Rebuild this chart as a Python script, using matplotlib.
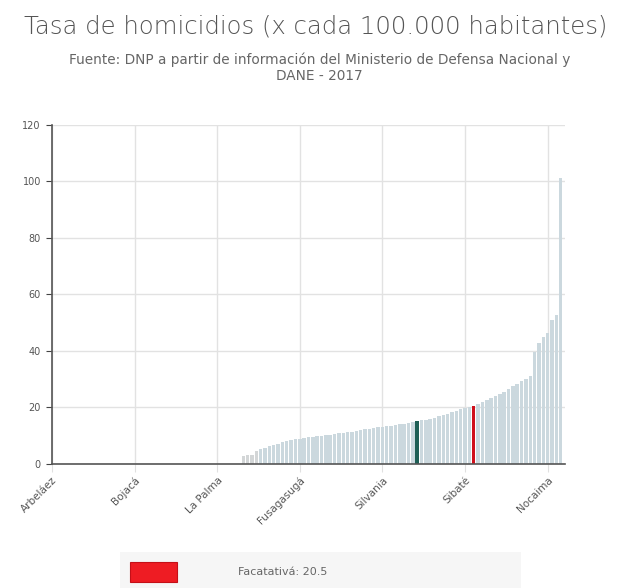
import matplotlib
matplotlib.use('Agg')
import matplotlib.pyplot as plt
from matplotlib.patches import Rectangle

# municipios ordenados por tasa; los primeros 44 sin homicidios
n_zero = 44
tasas = [2.8, 3.0, 3.3, 4.5, 5.2, 5.8, 6.3, 6.8, 7.2, 7.6, 8.0, 8.4, 8.7,
         9.0, 9.2, 9.4, 9.6, 9.8, 10.0, 10.2, 10.4, 10.6, 10.8, 11.0, 11.2,
         11.4, 11.7, 12.0, 12.2, 12.4, 12.7, 13.0, 13.2, 13.4, 13.6, 13.8,
         14.0, 14.3, 14.6, 14.8, 15.1, 15.4, 15.7, 16.0, 16.4, 16.8, 17.3,
         17.8, 18.3, 18.8, 19.3, 19.8, 20.2, 20.5, 21.2, 22.0, 22.7, 23.4,
         24.0, 24.6, 25.5, 26.5, 27.5, 28.4, 29.3, 30.2, 31.2, 39.6, 42.8,
         45.0, 46.5, 51.0, 52.7, 101.2]
valores = [0.0] * n_zero + tasas

tick_idx = [0, 19, 38, 57, 76, 95, 114]
tick_labels = ['Arbeláez', 'Bojacá', 'La Palma', 'Fusagasugá', 'Silvania',
               'Sibaté', 'Nocaima']

idx_verde = 84
idx_rojo = 97
etiqueta_rojo = 'Facatativá: 20.5'

colores = []
for i, v in enumerate(valores):
    if i == idx_rojo:
        colores.append('#d0101c')
    elif i == idx_verde:
        colores.append('#1f5f55')
    elif i < 48:
        colores.append('#d3d6d7')
    else:
        colores.append('#cbd8de')

fig = plt.figure(figsize=(6.26, 5.88), dpi=100)
ax = fig.add_axes([0.083, 0.211, 0.8196, 0.5765])

ax.bar(range(len(valores)), valores, width=0.8, color=colores, zorder=2)

ax.set_xlim(0, 118)
ax.set_ylim(0, 120)
ax.set_yticks(range(0, 121, 20))
ax.set_xticks(tick_idx)
ax.set_xticklabels(tick_labels, rotation=45, ha='right', rotation_mode='anchor')
ax.tick_params(axis='x', length=6, color='#e0e0e0', labelsize=7.5, labelcolor='#555555', pad=2)
ax.tick_params(axis='y', length=4, color='#444444', labelsize=7, labelcolor='#555555', pad=4)
ax.grid(True, color='#e2e2e2', linewidth=1, zorder=0)
for s in ['top', 'right']:
    ax.spines[s].set_visible(False)
ax.spines['left'].set_color('#555555')
ax.spines['bottom'].set_color('#555555')
ax.spines['left'].set_linewidth(1.2)
ax.spines['bottom'].set_linewidth(1.2)

fig.text(0.505, 0.955, 'Tasa de homicidios (x cada 100.000 habitantes)',
         ha='center', va='center', fontsize=17.6, color='#555555', fontweight='light')
fig.text(0.51, 0.885, 'Fuente: DNP a partir de información del Ministerio de Defensa Nacional y\nDANE - 2017',
         ha='center', va='center', fontsize=9.8, color='#666666', linespacing=1.15)

# leyenda inferior
fig.patches.append(Rectangle((0.192, 0.0), 0.64, 0.062, transform=fig.transFigure,
                             facecolor='#f6f6f6', edgecolor='none'))
fig.patches.append(Rectangle((0.208, 0.01), 0.075, 0.034, transform=fig.transFigure,
                             facecolor='#ee1c23', edgecolor='#c41018', linewidth=0.8))
fig.text(0.38, 0.027, etiqueta_rojo, ha='left', va='center', fontsize=8, color='#666666')

fig.savefig('out.png', dpi=100)
